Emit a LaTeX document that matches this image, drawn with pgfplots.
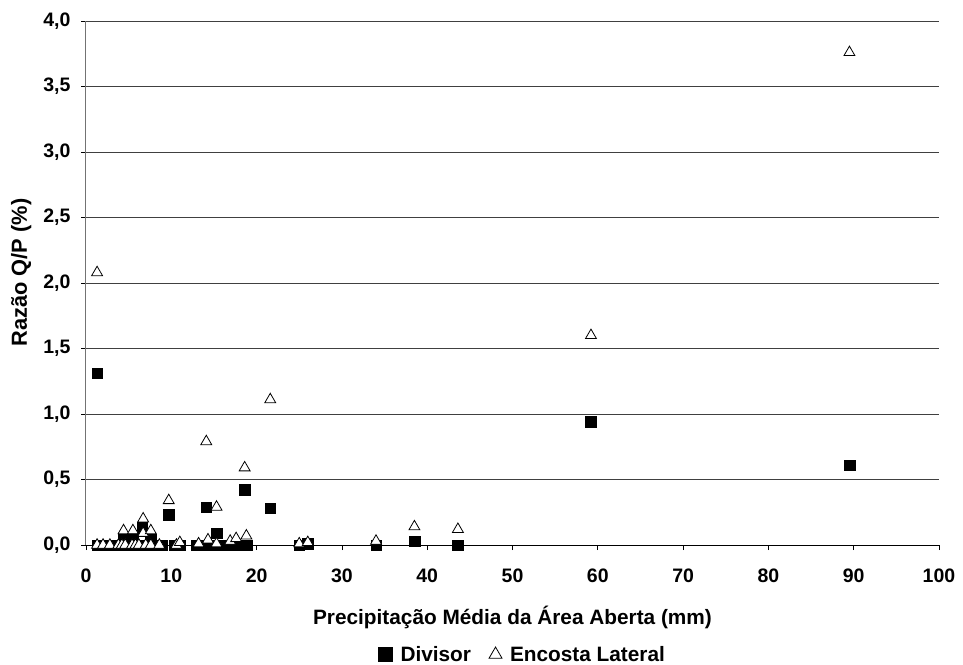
\documentclass[border=0pt]{standalone}
\usepackage{fontspec}
\setmainfont{Liberation Sans}
\usepackage{pgfplots}
\pgfplotsset{compat=1.18}
\begin{document}
\begin{tikzpicture}
\begin{axis}[
  scale only axis, width=853pt, height=524pt,
  xmin=0, xmax=100, ymin=0, ymax=4,
  xtick={0,10,...,100}, ytick={0,0.5,...,4},
  axis x line*=bottom, axis y line*=left,
  x axis line style={-, black, line width=1pt},
  y axis line style={-, black!55, line width=1pt},
  tick align=outside, major tick length=5pt,
  tick style={black, line width=0.8pt},
  ymajorgrids, grid style={black!75, line width=0.8pt},
  /pgf/number format/assume math mode=true,
  ticklabel style={font=\fontsize{19.5}{22}\selectfont\bfseries},
  xticklabel style={yshift=-15pt},
  yticklabel style={xshift=-7pt, /pgf/number format/.cd, fixed, fixed zerofill, precision=1, use comma},
  xlabel={Precipitação Média da Área Aberta (mm)},
  ylabel={Razão Q/P (\%)},
  xlabel style={font=\fontsize{20.8}{24}\selectfont\bfseries, at={(axis description cs:0.5,-0.151)}, anchor=base},
  ylabel style={font=\fontsize{21.8}{24}\selectfont\bfseries, at={(axis description cs:-0.0692,0.52)}, anchor=base},
  legend style={at={(0.512,-0.209)}, anchor=center, draw=none, fill=none,
    font=\fontsize{20.8}{24}\selectfont\bfseries, legend columns=2,
    /tikz/every odd column/.append style={column sep=6pt},
    /tikz/every even column/.append style={column sep=16pt}},
]
\addplot[only marks, mark=square*, mark size=5.3pt, black, legend image post style={mark size=7pt}] coordinates {
(1.3,1.31)(1.3,0)(2.0,0)(2.6,0)(3.3,0)(3.9,0)(4.5,0)(5.2,0)(5.8,0)(6.4,0)(7.0,0)(7.7,0)(8.3,0)(8.9,0)
(4.4,0.04)(5.5,0.05)(6.6,0.13)(7.6,0.04)
(9.7,0.23)(10.4,0)(11.0,0)
(13.0,0)(13.6,0)(14.1,0.29)(14.3,0)(15.0,0)(15.3,0.09)(15.5,0)
(16.8,0)(17.5,0)(18.2,0)(18.6,0.42)(18.9,0)
(21.6,0.28)(25.0,0)(26.0,0.01)(34.0,0)(38.5,0.03)(43.6,0)(59.2,0.94)(89.5,0.61)
};
\addlegendentry{Divisor}
\addplot[only marks, mark=triangle*, mark size=6.3pt, mark options={fill=white, draw=black, line width=0.8pt}, legend image post style={mark size=7.5pt}] coordinates {
(1.3,2.08)(1.3,0)(2.0,0)(2.8,0)(3.8,0)(4.2,0)(4.6,0)(5.4,0)(5.8,0)(6.2,0)(7.0,0)(7.6,0)(8.6,0)
(4.4,0.11)(5.5,0.11)(6.7,0.2)(6.7,0.09)(7.6,0.11)
(9.7,0.34)(10.6,0)(11.0,0.02)
(13.2,0.01)(14.1,0.79)(14.3,0.04)(15.3,0.29)(15.3,0.01)
(16.9,0.03)(17.6,0.05)(18.6,0.59)(18.8,0.07)
(21.6,1.11)(25.0,0.01)(26.0,0.02)(34.0,0.03)(38.5,0.14)(43.6,0.12)(59.2,1.6)(89.5,3.76)
};
\addlegendentry{Encosta Lateral}
\end{axis}
\pgfresetboundingbox
\useasboundingbox (-86pt,-119pt) rectangle (877pt,545pt);
\end{tikzpicture}
\end{document}
